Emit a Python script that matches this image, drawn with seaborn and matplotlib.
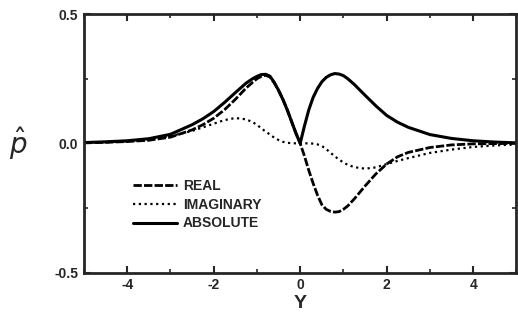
import matplotlib
matplotlib.use("Agg")
import matplotlib.pyplot as plt
import seaborn as sns
import pandas as pd
from matplotlib.ticker import MultipleLocator, FixedLocator

sns.set_style("ticks")
plt.rcParams['font.family'] = ['Liberation Sans', 'DejaVu Sans']

y_coord = [-5, -4.5, -4, -3.5, -3, -2.5, -2.25, -2, -1.75, -1.5, -1.25, -1.1, -1.0, -0.9,
           -0.8, -0.7, -0.6, -0.5, -0.4, -0.3, -0.2, -0.1, 0, 0.1, 0.2, 0.3, 0.4, 0.5, 0.6,
           0.7, 0.8, 0.9, 1.0, 1.1, 1.25, 1.5, 1.75, 2, 2.25, 2.5, 3, 3.5, 4, 4.5, 5]

real = [0.002, 0.004, 0.007, 0.012, 0.024, 0.052, 0.072, 0.097, 0.13, 0.17, 0.214, 0.236,
        0.250, 0.259, 0.263, 0.257, 0.234, 0.205, 0.17, 0.13, 0.085, 0.04, 0.0, -0.05,
        -0.105, -0.155, -0.20, -0.237, -0.255, -0.263, -0.266, -0.264, -0.255, -0.242,
        -0.215, -0.165, -0.118, -0.08, -0.052, -0.035, -0.016, -0.006, -0.002, -0.001, 0.0]

imaginary = [0.002, 0.004, 0.008, 0.015, 0.028, 0.048, 0.062, 0.076, 0.090, 0.098, 0.093,
             0.082, 0.072, 0.058, 0.046, 0.034, 0.022, 0.013, 0.006, 0.002, 0.001, 0.0,
             0.0, 0.0, 0.0, -0.001, -0.004, -0.01, -0.022, -0.036, -0.05, -0.063, -0.074,
             -0.083, -0.092, -0.098, -0.093, -0.08, -0.068, -0.057, -0.037, -0.024,
             -0.014, -0.008, -0.004]

absolute = [0.003, 0.006, 0.010, 0.018, 0.035, 0.072, 0.095, 0.123, 0.158, 0.196, 0.233,
            0.250, 0.259, 0.266, 0.267, 0.260, 0.236, 0.205, 0.17, 0.13, 0.085, 0.04, 0.0,
            0.068, 0.13, 0.178, 0.212, 0.238, 0.255, 0.265, 0.270, 0.268, 0.262, 0.25,
            0.228, 0.186, 0.145, 0.108, 0.082, 0.062, 0.034, 0.019, 0.010, 0.005, 0.002]

y_ticks = [-0.5, 0.0, 0.5]
y_tick_labels = ["-0.5", "0.0", "0.5"]
x_ticks = [-4, -2, 0, 2, 4]
x_tick_labels = ["-4", "-2", "0", "2", "4"]

df = pd.DataFrame({"Y": y_coord, "REAL": real, "IMAGINARY": imaginary, "ABSOLUTE": absolute})

fig = plt.figure(figsize=(5.18, 3.20), dpi=100)
ax = fig.add_axes([0.162, 0.148, 0.835, 0.808])

sns.lineplot(data=df, x="Y", y="REAL", ax=ax, color="black", lw=2.0, label="REAL",
             linestyle=(0, (3, 0.8)), dash_capstyle="butt")
sns.lineplot(data=df, x="Y", y="IMAGINARY", ax=ax, color="black", lw=1.6,
             label="IMAGINARY", linestyle=(0, (1, 1.6)))
sns.lineplot(data=df, x="Y", y="ABSOLUTE", ax=ax, color="black", lw=2.2,
             label="ABSOLUTE")

ax.set_xlim(-5, 5)
ax.set_ylim(-0.5, 0.5)
ax.xaxis.set_major_locator(FixedLocator(x_ticks))
ax.xaxis.set_minor_locator(MultipleLocator(1))
ax.yaxis.set_major_locator(FixedLocator(y_ticks))
ax.yaxis.set_minor_locator(MultipleLocator(0.25))
ax.set_xticklabels(x_tick_labels)
ax.set_yticklabels(y_tick_labels)
ax.tick_params(which="major", direction="in", length=5, width=1.5, top=True, right=True,
               labelsize=10, pad=4)
ax.tick_params(which="minor", direction="in", length=3, width=1.2, top=True, right=True)
for lab in ax.get_xticklabels() + ax.get_yticklabels():
    lab.set_fontweight("bold")
for sp in ax.spines.values():
    sp.set_linewidth(2)
    sp.set_visible(True)

ax.set_xlabel("Y", fontsize=14, fontweight="bold", labelpad=2)
ax.set_ylabel(r"$\hat{p}$", fontsize=20, rotation=0, labelpad=26, va="center")

leg = ax.legend(loc="upper left", bbox_to_anchor=(0.10, 0.385), frameon=False,
                fontsize=10, handlelength=3.2, handletextpad=0.4, labelspacing=0.35,
                borderaxespad=0)
for t in leg.get_texts():
    t.set_fontweight("bold")

fig.savefig("out.png", dpi=100)
